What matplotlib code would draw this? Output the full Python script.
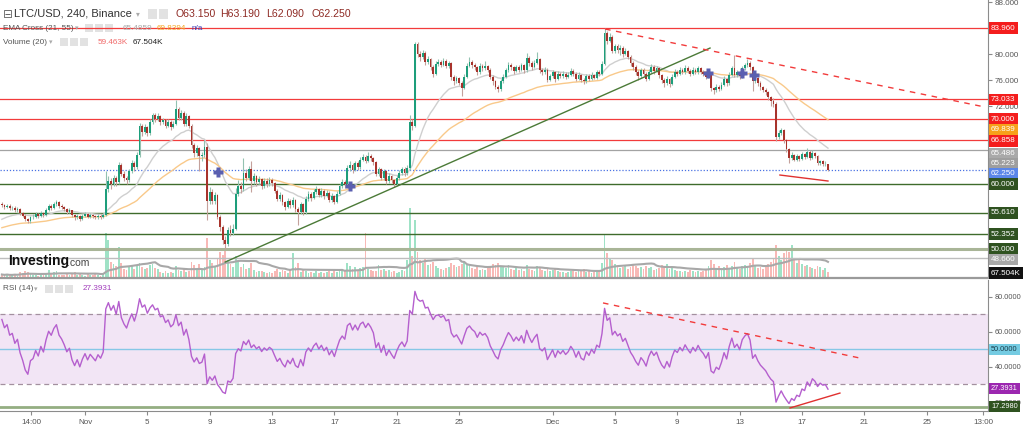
import numpy as np
import pandas as pd
import matplotlib
matplotlib.use("Agg")
import matplotlib.pyplot as plt
from matplotlib.patches import Rectangle
from matplotlib.transforms import blended_transform_factory

plt.rcParams['font.family'] = ['Liberation Sans', 'DejaVu Sans']

# LTC/USD 4h candles (open = previous close)
first_open = 56.9
close = [
    56.8, 56.5, 56.7, 56.3, 56.4, 56.0, 56.2, 55.6, 55.2, 54.6, 54.3, 54.9, 55.0, 55.4, 55.1, 55.6, 55.3, 56.0, 56.6, 56.4,
    56.9, 57.2, 56.7, 56.5, 56.2, 55.8, 56.0, 55.3, 54.9, 55.2, 54.7, 55.1, 55.4, 55.0, 55.3, 55.1, 54.9, 55.2, 55.0, 55.3,
    59.3, 60.5, 60.0, 60.9, 60.3, 63.0, 61.6, 61.0, 60.6, 62.0, 63.3, 62.6, 64.5, 69.0, 68.0, 68.8, 67.8, 69.5, 70.6, 70.0,
    70.5, 69.5, 69.8, 69.0, 69.6, 68.8, 69.3, 71.5, 70.2, 71.0, 69.3, 70.5, 69.0, 66.0, 64.8, 65.5, 64.3, 64.5, 65.8, 57.5,
    58.8, 57.5, 58.3, 55.0, 53.5, 51.5, 50.8, 53.0, 52.5, 53.2, 58.5, 59.8, 59.2, 61.8, 61.0, 62.3, 60.5, 61.2, 60.3, 60.8,
    59.7, 60.5, 60.0, 60.6, 60.2, 59.0, 57.8, 58.3, 57.2, 56.5, 57.5, 56.8, 57.6, 56.2, 55.8, 56.9, 55.7, 57.8, 58.5, 57.9,
    58.8, 59.3, 58.4, 59.0, 58.2, 58.7, 57.6, 58.2, 57.3, 58.5, 59.7, 60.4, 60.0, 62.5, 63.0, 62.2, 63.2, 62.6, 63.8, 64.2,
    63.6, 64.4, 64.0, 63.4, 61.6, 62.3, 61.0, 62.0, 60.5, 61.3, 60.6, 60.0, 61.0, 61.8, 62.3, 61.7, 62.5, 69.5, 69.0, 81.5,
    80.0, 79.6, 80.2, 78.8, 79.2, 78.0, 77.0, 78.5, 78.8, 78.4, 79.0, 78.2, 78.6, 76.5, 75.8, 76.3, 75.6, 74.8, 76.5, 78.2,
    78.8, 78.3, 78.0, 77.2, 78.2, 77.8, 78.1, 77.6, 76.5, 75.8, 75.0, 74.6, 75.8, 76.5, 77.5, 78.4, 78.0, 77.4, 78.0, 77.6,
    78.3, 77.5, 79.4, 78.6, 78.0, 78.7, 79.2, 77.5, 77.2, 77.6, 76.0, 76.6, 77.2, 76.2, 77.0, 76.6, 77.0, 76.5, 76.8, 77.4,
    77.0, 76.2, 76.8, 76.0, 75.8, 76.6, 76.2, 76.8, 76.4, 77.2, 77.0, 78.5, 83.3, 82.0, 82.6, 80.5, 81.2, 80.6, 81.0, 80.0,
    80.5, 79.6, 78.6, 78.0, 77.2, 76.6, 77.5, 77.0, 76.2, 77.3, 78.0, 77.4, 77.8, 76.8, 76.0, 75.5, 76.2, 75.4, 76.5, 77.3,
    77.0, 77.6, 77.2, 77.9, 77.4, 77.0, 77.6, 77.2, 77.8, 77.3, 77.0, 76.5, 77.0, 74.8, 74.5, 75.0, 74.7, 75.3, 76.2, 75.5,
    76.8, 77.8, 76.8, 77.2, 76.6, 77.8, 78.3, 78.6, 78.0, 75.9, 76.3, 75.5, 74.9, 74.5, 74.1, 73.4, 72.8, 72.4, 67.2, 67.8,
    68.3, 66.8, 65.4, 64.0, 64.5, 63.8, 64.3, 63.9, 64.6, 64.2, 65.0, 64.1, 64.8, 64.3, 63.2, 63.5, 63.1, 63.15, 62.25,
]
high = [
    57.2, 57.0, 57.0, 56.9, 56.7, 56.6, 56.5, 56.3, 55.8, 55.4, 54.8, 55.2, 55.4, 55.7, 55.6, 55.9, 55.8, 56.3, 56.9, 56.9,
    57.2, 57.6, 57.4, 56.9, 56.7, 56.4, 56.3, 56.1, 55.5, 55.5, 55.3, 55.4, 55.7, 55.6, 55.6, 55.5, 55.3, 55.5, 55.4, 55.6,
    62.0, 61.2, 60.9, 61.5, 61.2, 63.4, 63.2, 62.0, 61.3, 62.4, 63.7, 63.5, 65.0, 69.4, 69.3, 69.2, 69.0, 70.0, 71.0, 70.9,
    70.9, 70.7, 70.2, 70.0, 70.0, 69.8, 69.7, 73.0, 71.8, 71.4, 71.2, 70.9, 70.7, 69.2, 66.3, 66.0, 65.7, 65.0, 66.8, 66.4,
    59.6, 59.2, 58.8, 58.5, 55.3, 53.8, 52.0, 53.5, 53.8, 53.9, 59.5, 60.6, 60.3, 64.1, 62.4, 62.8, 63.5, 61.8, 61.5, 61.3,
    61.0, 61.0, 60.9, 61.1, 60.9, 60.4, 59.3, 58.8, 58.5, 57.5, 57.9, 57.8, 58.0, 57.8, 56.5, 57.3, 57.1, 58.2, 58.9, 58.8,
    59.2, 59.7, 59.5, 59.4, 59.2, 59.1, 58.9, 58.6, 58.4, 58.9, 60.1, 60.8, 60.7, 63.0, 63.5, 63.3, 63.6, 63.5, 64.2, 64.7,
    64.5, 64.9, 64.7, 64.2, 63.6, 62.7, 62.5, 62.4, 62.2, 61.7, 61.5, 60.8, 61.4, 62.2, 62.7, 62.6, 63.0, 70.6, 70.0, 81.9,
    81.8, 80.5, 80.6, 80.4, 79.7, 79.4, 78.3, 78.9, 79.3, 79.1, 79.4, 79.2, 79.0, 78.8, 76.8, 76.7, 76.5, 75.9, 76.9, 78.6,
    79.5, 79.1, 78.6, 78.2, 78.6, 78.5, 78.9, 78.3, 77.8, 76.8, 76.0, 75.3, 76.2, 76.9, 77.9, 78.8, 78.7, 78.2, 78.4, 78.3,
    78.7, 78.5, 80.1, 79.7, 78.9, 79.1, 80.3, 79.4, 77.8, 78.0, 77.8, 77.0, 77.6, 77.4, 77.4, 77.3, 77.4, 77.2, 77.2, 77.8,
    77.7, 77.2, 77.2, 77.0, 76.3, 77.0, 76.9, 77.2, 77.0, 77.6, 77.5, 78.9, 83.96, 83.6, 83.2, 82.9, 81.6, 81.5, 81.4, 81.2,
    80.9, 80.7, 79.9, 78.9, 78.3, 77.5, 77.9, 77.8, 77.3, 77.7, 78.5, 78.3, 78.2, 78.0, 77.0, 76.3, 76.6, 76.4, 76.9, 77.7,
    77.6, 78.0, 77.9, 78.3, 78.1, 77.7, 78.0, 77.8, 78.2, 78.0, 77.6, 77.2, 77.4, 77.2, 75.0, 75.4, 75.2, 75.7, 76.6, 76.4,
    77.2, 78.2, 79.8, 77.6, 77.4, 78.2, 78.7, 79.2, 78.9, 78.2, 76.7, 76.5, 75.8, 75.1, 74.8, 74.3, 73.6, 73.2, 72.6, 68.4,
    68.7, 68.5, 67.0, 65.6, 64.9, 64.7, 64.7, 64.5, 65.0, 64.8, 65.6, 65.2, 65.2, 65.0, 64.5, 63.8, 63.7, 63.5, 63.19,
]
low = [
    56.5, 56.2, 56.3, 56.0, 56.0, 55.7, 55.8, 55.3, 54.9, 54.3, 54.0, 54.1, 54.6, 54.8, 54.8, 55.0, 55.0, 55.1, 55.9, 56.1,
    56.2, 56.7, 56.4, 56.2, 55.9, 55.5, 55.6, 55.0, 54.5, 54.7, 54.4, 54.5, 54.9, 54.8, 54.8, 54.8, 54.6, 54.7, 54.7, 54.8,
    55.1, 58.8, 59.3, 59.7, 59.8, 60.1, 61.2, 60.5, 60.1, 60.4, 61.8, 62.0, 62.4, 64.2, 67.4, 67.7, 67.4, 67.6, 69.2, 69.6,
    69.7, 69.1, 69.2, 68.6, 68.8, 68.4, 68.6, 69.1, 69.8, 69.9, 68.9, 69.0, 68.6, 65.6, 64.2, 64.4, 62.1, 63.6, 64.2, 54.5,
    57.0, 56.9, 57.0, 54.6, 52.8, 50.9, 50.1, 50.5, 52.0, 52.2, 53.0, 58.2, 58.7, 59.0, 60.5, 60.7, 58.8, 60.1, 59.8, 60.0,
    59.3, 59.4, 59.6, 59.7, 59.8, 58.6, 57.4, 57.5, 56.8, 56.0, 56.3, 56.3, 56.5, 55.8, 53.7, 55.5, 55.3, 55.5, 57.5, 57.5,
    57.7, 58.5, 58.0, 58.1, 57.8, 58.0, 57.2, 57.3, 56.9, 57.1, 58.3, 59.4, 59.5, 59.8, 62.0, 61.8, 62.0, 62.2, 62.4, 63.5,
    63.2, 63.4, 63.6, 63.0, 61.2, 61.3, 60.6, 60.7, 60.1, 60.2, 60.2, 59.6, 59.8, 60.7, 61.5, 61.3, 61.5, 62.2, 68.4, 68.8,
    79.5, 79.0, 79.3, 78.3, 78.5, 77.5, 76.5, 76.8, 78.2, 78.0, 78.1, 77.8, 77.9, 76.0, 75.3, 75.5, 75.2, 73.6, 74.6, 76.3,
    78.0, 77.9, 77.6, 76.8, 77.0, 77.4, 77.6, 77.2, 76.1, 75.2, 74.6, 74.2, 74.4, 75.5, 76.3, 77.2, 77.6, 77.0, 77.2, 77.2,
    77.4, 77.1, 77.3, 78.2, 77.6, 77.8, 78.5, 77.1, 76.8, 76.9, 75.7, 75.8, 76.4, 75.7, 76.0, 76.3, 76.4, 76.2, 76.3, 76.6,
    76.7, 75.9, 76.0, 75.7, 75.4, 75.6, 75.9, 76.0, 76.1, 76.2, 76.7, 76.8, 78.3, 81.6, 81.8, 80.1, 80.2, 80.2, 79.8, 79.6,
    79.8, 79.2, 78.2, 77.6, 76.8, 76.0, 76.4, 76.6, 75.8, 76.0, 77.1, 77.0, 77.2, 76.4, 75.6, 74.9, 75.2, 75.0, 75.2, 76.3,
    76.7, 76.8, 76.9, 77.0, 77.1, 76.7, 76.8, 76.9, 77.0, 77.0, 76.7, 76.1, 76.3, 74.4, 73.8, 74.2, 74.3, 74.5, 75.1, 75.1,
    75.3, 76.6, 76.5, 76.5, 76.2, 76.4, 77.6, 78.0, 77.6, 74.4, 75.6, 75.1, 74.5, 74.1, 73.7, 73.0, 72.0, 71.9, 66.7, 66.9,
    67.5, 66.4, 65.0, 63.2, 63.7, 63.5, 63.6, 63.5, 63.7, 63.9, 64.0, 63.8, 63.9, 64.0, 62.9, 63.0, 62.8, 62.8, 62.09,
]
volume = [  # thousands
    35, 28, 40, 22, 30, 45, 25, 60, 55, 70, 65, 40, 30, 35, 25, 45, 30, 55, 80, 40,
    60, 75, 35, 30, 28, 45, 30, 50, 60, 35, 55, 30, 25, 40, 28, 35, 45, 30, 25, 40,
    450, 380, 160, 140, 120, 310, 150, 90, 80, 110, 130, 90, 120, 150, 110, 90, 100, 130, 140, 100,
    90, 60, 55, 70, 50, 60, 55, 120, 80, 70, 90, 60, 75, 160, 130, 90, 140, 80, 110, 400,
    180, 150, 120, 200, 260, 230, 270, 180, 140, 110, 220, 160, 110, 140, 90, 100, 150, 80, 60, 70,
    75, 60, 55, 65, 50, 70, 90, 60, 85, 70, 55, 80, 250, 110, 150, 60, 80, 70, 55, 60,
    50, 70, 55, 60, 50, 65, 70, 55, 80, 60, 75, 90, 80, 150, 120, 90, 110, 80, 100, 110,
    450, 90, 80, 70, 75, 130, 80, 90, 70, 85, 60, 70, 55, 60, 80, 75, 180, 700, 220, 580,
    260, 180, 150, 200, 130, 140, 160, 120, 100, 90, 80, 100, 110, 150, 130, 110, 120, 140, 160, 130,
    120, 100, 90, 110, 80, 90, 85, 100, 120, 140, 130, 150, 110, 120, 100, 130, 90, 80, 100, 85,
    90, 70, 130, 90, 80, 75, 120, 110, 80, 70, 90, 75, 80, 95, 70, 60, 65, 55, 60, 70,
    75, 60, 80, 70, 90, 65, 70, 55, 60, 75, 80, 150, 430, 250, 200, 180, 140, 120, 100, 110,
    130, 90, 110, 140, 120, 100, 110, 90, 120, 100, 110, 80, 90, 100, 130, 120, 140, 90, 110, 80,
    70, 75, 60, 70, 65, 80, 70, 60, 75, 65, 70, 80, 120, 180, 140, 100, 120, 90, 110, 130,
    100, 120, 160, 110, 90, 120, 130, 110, 150, 200, 120, 100, 110, 90, 130, 140, 160, 200, 330, 220,
    180, 250, 300, 260, 330, 200, 150, 180, 140, 120, 130, 110, 100, 90, 120, 110, 80, 100, 59.5,
]

# indicator state just before the first visible candle
ema_seed = {21: 54.4, 55: 53.2}
rsi_seed_gain, rsi_seed_loss = 0.22, 0.10

# x axis: candle index (Nov 1 00:00 = candle 32, 6 candles per day)
tick_pos = [11.2, 32, 56, 80, 104, 128, 152, 176, 212, 236, 260, 284, 308, 332, 356, 377.7]
tick_labels = ['14:00', 'Nov', '5', '9', '13', '17', '21', '25', 'Dec', '5', '9', '13', '17', '21', '25', '13:00']
price_ticks = [72, 76, 80, 88]   # the scale values not hidden behind tags
rsi_ticks = [20, 40, 60, 80]

# drawn levels and lines
red_levels = [83.96, 73.033, 70.0, 66.858]
green_levels = [60.0, 55.61, 52.352]
gray_level = 65.223
last_price = 62.25
green_trend = ([86.0, 272.6], [48.06, 80.93])
red_trend = ([232.2, 378.4], [83.85, 71.87])
red_support = ([299.5, 318.0], [61.42, 60.50])
cross_idx = [83.2, 134.0, 271.8, 284.9, 289.5]
cross_price = [61.88, 59.73, 77.09, 77.09, 76.79]
rsi_trend = ([231.4, 330.3], [76.6, 45.1])
rsi_support = ([303.4, 322.6], [16.6, 25.1])
rsi_level = 17.298

# price-scale tags: text, shown at, background
price_tags = [
    ('83.960', 83.96, '#f41d1d'), ('73.033', 73.033, '#f41d1d'), ('70.000', 70.0, '#f41d1d'),
    ('69.839', 68.38, '#f7a11a'), ('66.858', 66.65, '#f41d1d'), ('65.486', 64.68, '#a9a9a9'),
    ('65.223', 63.14, '#9e9e9e'), ('62.250', 61.6, '#5a86e8'), ('60.000', 60.0, '#2f5220'),
    ('55.610', 55.61, '#2f5220'), ('52.352', 52.352, '#2f5220'), ('50.000', 50.0, '#2f5220'),
    ('48.660', 48.45, '#a9a9a9'), ('67.504K', 46.32, '#111111'),
]

close = np.array(close)
opn = np.r_[first_open, close[:-1]]
x = np.arange(len(close))
up = close >= opn


def ema(n):
    a = 2.0 / (n + 1)
    v = ema_seed[n]
    out = []
    for c in close:
        v += a * (c - v)
        out.append(v)
    return np.array(out)


g, l = rsi_seed_gain, rsi_seed_loss
rsi = []
for d in np.diff(np.r_[first_open, close]):
    g = (g * 13 + max(d, 0)) / 14
    l = (l * 13 + max(-d, 0)) / 14
    rsi.append(100 - 100 / (1 + g / l))
vol_ma = pd.Series(volume).rolling(20, min_periods=1).mean()

W, H = 1024, 432
fig = plt.figure(figsize=(W / 100, H / 100), dpi=100, facecolor='white')
ax = fig.add_axes([0, 1 - 278 / H, 988 / W, 278 / H])
ar = fig.add_axes([0, 1 - 411 / H, 988 / W, 131 / H], sharex=ax)
av = ax.twinx()

# volume
av.bar(x, volume, width=0.7, color=np.where(up, '#9fe2c6', '#f8b9b6'), linewidth=0)
av.plot(x, vol_ma, color='#a8a8a8', lw=1.5)
av.set_ylim(0, 2780)
av.axis('off')
ax.set_zorder(av.get_zorder() + 1)
ax.patch.set_visible(False)

# levels
for lv in red_levels:
    ax.axhline(lv, color='#f23b3b', lw=0.9, zorder=2)
for lv in green_levels:
    ax.axhline(lv, color='#3f6b2c', lw=1.0, zorder=2)
ax.axhline(50.0, color='#a9b597', lw=2.2, zorder=2)
ax.axhline(48.66, color='#bdbdbd', lw=1.0, zorder=2)
ax.axhline(gray_level, color='#a3a3a3', lw=0.9, zorder=2)
ax.axhline(last_price, color='#4a72e3', lw=0.9, ls=(0, (1, 1.5)), zorder=2)

# EMAs
ax.plot(x, ema(21), color='#cfcfcf', lw=1.0, zorder=3)
ax.plot(x, ema(55), color='#f9c98a', lw=1.0, zorder=3)

# candles
ax.vlines(x, low, high, colors=np.where(up, '#93c2b1', '#c4a19b'), lw=0.8, zorder=4)
ax.bar(x, np.maximum(np.abs(close - opn), 0.08), bottom=np.minimum(opn, close), width=0.7,
       color=np.where(up, '#1d9e7b', '#a8332c'), linewidth=0, zorder=5)

# drawings
ax.plot(*green_trend, color='#4b7a37', lw=1.0, zorder=6)
ax.plot(*red_trend, color='#f23b3b', lw=1.0, ls=(0, (4, 4)), zorder=6)
ax.plot(*red_support, color='#e0312f', lw=1.0, zorder=6)
ax.plot(cross_idx, cross_price, 'P', color='#5a5fb0', ms=6.5, mec='none', zorder=7)

ax.set_xlim(-0.72, 379.6)
ax.set_ylim(45.60, 88.31)
ax.yaxis.tick_right()
ax.set_yticks(price_ticks)
ax.set_yticklabels(['%.3f' % v for v in price_ticks])
ax.tick_params(axis='y', labelsize=5.8, colors='#8a8a8a', labelcolor='#555555', length=3, width=0.8, pad=2)
ax.tick_params(axis='x', bottom=False, labelbottom=False)
for s in ['top', 'left']:
    ax.spines[s].set_visible(False)
ax.spines['right'].set_color('#8c8c8c')
ax.spines['bottom'].set_color('#9a9a9a')
ax.spines['bottom'].set_linewidth(1.6)

# RSI panel
ar.axhspan(30, 70, color='#f2e5f5', lw=0, zorder=1)
ar.axhline(70, color='#a3909f', lw=0.9, ls=(0, (4, 3)), zorder=2)
ar.axhline(30, color='#a3909f', lw=0.9, ls=(0, (4, 3)), zorder=2)
ar.axhline(50, color='#86c7e6', lw=1.0, zorder=2)
ar.axhline(rsi_level, color='#94ae82', lw=2.0, zorder=2)
ar.plot(x, rsi, color='#b55fce', lw=1.0, zorder=4)
ar.plot(*rsi_trend, color='#f23b3b', lw=1.0, ls=(0, (4, 4)), zorder=5)
ar.plot(*rsi_support, color='#e0312f', lw=1.0, zorder=5)
ar.set_ylim(14.86, 89.7)
ar.yaxis.tick_right()
ar.set_yticks(rsi_ticks)
ar.set_yticklabels(['%.4f' % v for v in rsi_ticks])
ar.tick_params(axis='y', labelsize=5.3, colors='#8a8a8a', labelcolor='#555555', length=3, width=0.8, pad=2)
ar.set_xticks(tick_pos)
ar.set_xticklabels(tick_labels)
ar.tick_params(axis='x', labelsize=5.8, colors='#8a8a8a', labelcolor='#555555', length=3, width=0.8, pad=3)
for s in ['top', 'left']:
    ar.spines[s].set_visible(False)
ar.spines['right'].set_color('#8c8c8c')
ar.spines['bottom'].set_color('#8c8c8c')


def tag(axis, y, text, fc, tc='white', size=5.8):
    axis.text(1.003, y, text, transform=blended_transform_factory(axis.transAxes, axis.transData),
              fontsize=size, color=tc, va='center', ha='left', clip_on=False, zorder=20,
              bbox=dict(boxstyle='square,pad=0.3', fc=fc, ec='none'))


for text, pos, fc in price_tags:
    tag(ax, pos, text, fc)
tag(ar, 50.0, '50.0000', '#74cbe2', '#1a3d4a', 5.3)
tag(ar, 27.8, '27.3931', '#9c27b0', 'white', 5.3)
tag(ar, rsi_level, '17.2980', '#2f5220', 'white', 5.3)


# legends (positions in pixels from the top-left)
def ftxt(px, py, s, size=5.9, color='#555555', **kw):
    fig.text(px / W, 1 - py / H, s, fontsize=size, color=color, va='center', ha='left', **kw)


def icons(px, py, n, size=9):
    for k in range(n):
        fig.add_artist(Rectangle(((px + k * (size + 2)) / W, 1 - (py + size / 2) / H), size / W, size / H,
                                 transform=fig.transFigure, fc='#e2e2e2', ec='none'))


ftxt(3, 14, '\u229f', 8.5, '#666666', family=['DejaVu Sans'])
ftxt(14, 14, 'LTC/USD, 240, Binance', 8.0, '#333333')
ftxt(136, 14, '\u25be', 5.5, '#aaaaaa', family=['DejaVu Sans'])
icons(148, 14, 2, 9)
for px, s in [(175, 'O63.150'), (220, 'H63.190'), (266, 'L62.090'), (311, 'C62.250')]:
    ftxt(px, 14, s, 7.6, '#8e2a24')

ftxt(3, 28, 'EMA Cross (21, 55)')
ftxt(75, 28, '\u25be', 5, '#aaaaaa', family=['DejaVu Sans'])
icons(85, 28, 3, 8)
ftxt(123, 28, '65.4859', color='#a8a8a8')
ftxt(157, 28, '69.8394', color='#f5a623')
ftxt(192, 28, 'n/a', color='#3c3cb4')

ftxt(3, 42, 'Volume (20)')
ftxt(49, 42, '\u25be', 5, '#aaaaaa', family=['DejaVu Sans'])
icons(60, 42, 3, 8)
ftxt(98, 42, '59.463K', color='#f06a6a')
ftxt(133, 42, '67.504K', color='#222222')

ftxt(3, 289, 'RSI (14)')
ftxt(34, 289, '\u25be', 5, '#aaaaaa', family=['DejaVu Sans'])
icons(45, 289, 3, 8)
ftxt(83, 289, '27.3931', color='#a13dbb')

ftxt(8, 261, 'Investing', 10, '#111111', weight='bold')
ftxt(67, 263, '.com', 7.5, '#444444')

fig.savefig('out.png', dpi=100, facecolor='white')
